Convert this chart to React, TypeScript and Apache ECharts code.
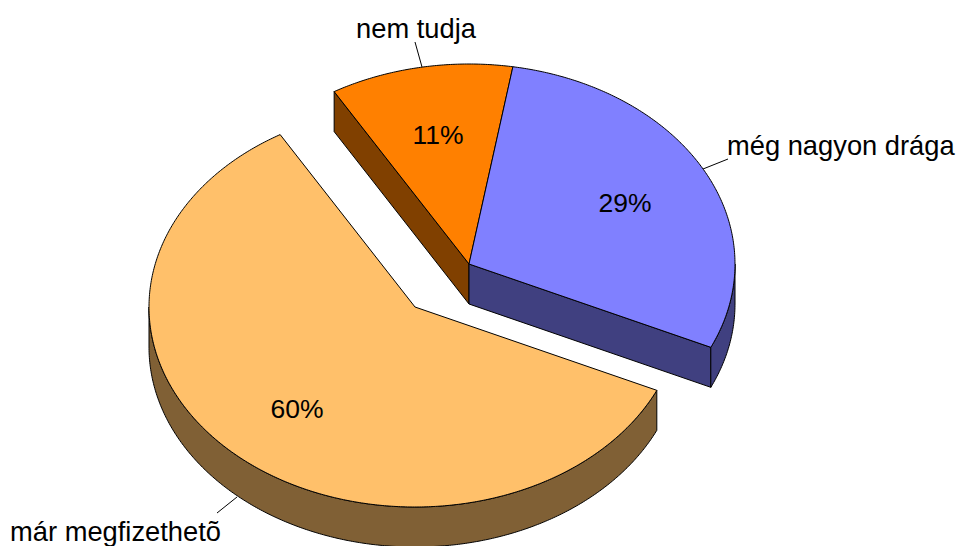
import React, { useEffect, useRef } from "react";
import * as echarts from "echarts";

const categories = ["még nagyon drága", "már megfizethetõ", "nem tudja"];
const values = [29.2, 59.7, 11.1];
const percentLabels = ["29%", "60%", "11%"];
const topColors = ["#8080FF", "#FFC06A", "#FF8000"];
const sideColors = ["#404080", "#806035", "#804000"];

const START_ANGLE = 80.5;
const RX = 266;
const RY = 200;
const DEPTH = 40;
const centers: [number, number][] = [[469, 264], [415, 307], [469, 264]];
const pctPos: [number, number][] = [[625, 203], [297, 409], [438, 135]];
const namePos: [number, number, string][] = [[727, 145, "left"], [115.5, 531, "center"], [416, 28, "center"]];
const leaders: number[][] = [[703, 169, 728, 159], [217, 513, 237, 497], [415, 42, 422, 67]];
const LINE = "#000";
const FONT = "'Liberation Sans', Arial, sans-serif";
const NAME_SIZE = 27.3;
const PCT_SIZE = 26.5;

type P = [number, number];
function pt(c: P, deg: number, dy = 0): P {
  const a = (deg * Math.PI) / 180;
  return [c[0] + RX * Math.cos(a), c[1] - RY * Math.sin(a) + dy];
}
function arcPoints(c: P, from: number, to: number, dy = 0): P[] {
  const n = Math.max(2, Math.ceil(Math.abs(to - from) * 2));
  const out: P[] = [];
  for (let k = 0; k <= n; k++) out.push(pt(c, from + ((to - from) * k) / n, dy));
  return out;
}

export default function App() {
  const ref = useRef<HTMLDivElement>(null);
  useEffect(() => {
    document.body.style.margin = "0";
    const chart = echarts.init(ref.current!, undefined, { renderer: "svg" });
    const total = values.reduce((a, b) => a + b, 0);
    const angles: [number, number][] = [];
    let cur = START_ANGLE;
    values.forEach((v) => {
      const next = cur - (v / total) * 360;
      angles.push([cur, next]);
      cur = next;
    });
    const order = [2, 0, 1];
    chart.setOption({
      animation: false,
      backgroundColor: "#fff",
      series: [
        {
          type: "custom",
          coordinateSystem: "none",
          silent: true,
          clip: false,
          data: order.map((i) => [i, values[i]]),
          renderItem: (params: any, api: any) => {
            const i = api.value(0) as number;
            const c = centers[i];
            const [from, to] = angles[i];
            const style = { stroke: LINE, lineWidth: 1, lineJoin: "round" };
            const children: any[] = [];
            const poly = (points: P[], fill: string) =>
              children.push({ type: "polygon", shape: { points }, style: { ...style, fill } });
            // visible cut wall: the front edge of the blue slice, the left edge of the orange one
            const cutAngle = i === 0 ? to : i === 2 ? from : null;
            if (cutAngle !== null) {
              const e = pt(c, cutAngle);
              poly([[c[0], c[1]], e, [e[0], e[1] + DEPTH], [c[0], c[1] + DEPTH]], sideColors[i]);
            }
            // outer wall, only the part of the rim facing the viewer
            if (i === 0 || i === 1) {
              const wFrom = i === 0 ? 0 : from;
              const wTo = i === 0 ? to : -180;
              poly([...arcPoints(c, wFrom, wTo), ...arcPoints(c, wTo, wFrom, DEPTH)], sideColors[i]);
            }
            // top face
            poly([[c[0], c[1]], ...arcPoints(c, from, to)], topColors[i]);
            return { type: "group", children };
          },
        },
      ],
      graphic: [
        ...leaders.map((l) => ({
          type: "line",
          shape: { x1: l[0], y1: l[1], x2: l[2], y2: l[3] },
          style: { stroke: LINE, lineWidth: 1 },
          z: 5,
        })),
        ...percentLabels.map((t, i) => ({
          type: "text",
          x: pctPos[i][0],
          y: pctPos[i][1],
          z: 6,
          style: { text: t, fill: "#000", font: `${PCT_SIZE}px ${FONT}`, align: "center", verticalAlign: "middle" },
        })),
        ...categories.map((t, i) => ({
          type: "text",
          x: namePos[i][0],
          y: namePos[i][1],
          z: 6,
          style: { text: t, fill: "#000", font: `${NAME_SIZE}px ${FONT}`, align: namePos[i][2], verticalAlign: "middle" },
        })),
      ],
    });
    return () => chart.dispose();
  }, []);
  return <div ref={ref} style={{ width: 960, height: 546 }} />;
}
